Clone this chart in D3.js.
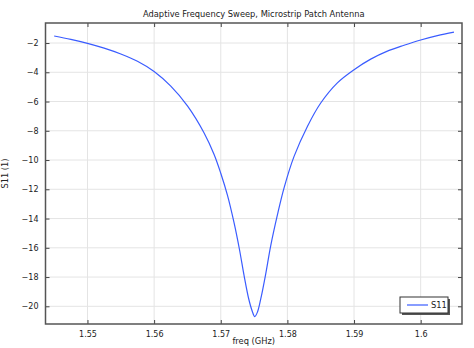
<!DOCTYPE html>
<html><head><meta charset="utf-8">
<script src="https://cdn.jsdelivr.net/npm/d3@7"></script>
<style>body{margin:0;background:#fff}svg{display:block}text{font-family:"DejaVu Sans",sans-serif;fill:#222}</style>
</head><body><svg id="c" width="474" height="348"></svg>
<script>
const freq = [1.545,1.5475,1.55,1.5525,1.555,1.5575,1.56,1.5625,1.565,1.5675,1.569,1.570,1.571,1.572,1.5728,1.5735,1.5742,1.5747,1.5751,1.5755,1.576,1.5767,1.5775,1.5785,1.5795,1.581,1.583,1.585,1.5875,1.59,1.5925,1.595,1.5975,1.6,1.6025,1.605];
const s11 = [-1.52,-1.75,-2.02,-2.35,-2.75,-3.25,-3.95,-4.95,-6.3,-8.15,-9.62,-10.9,-12.4,-14.3,-16.1,-17.9,-19.5,-20.3,-20.7,-20.4,-19.5,-17.9,-15.85,-13.75,-11.9,-9.75,-7.7,-6.1,-4.72,-3.82,-3.1,-2.55,-2.15,-1.79,-1.49,-1.25];
const xTicks = [1.55,1.56,1.57,1.58,1.59,1.6];
const yTicks = [-20,-18,-16,-14,-12,-10,-8,-6,-4,-2];
const title = "Adaptive Frequency Sweep, Microstrip Patch Antenna";
const xLabel = "freq (GHz)", yLabel = "S11 (1)", seriesName = "S11";

const svg = d3.select("#c");
const L=45.5,R=462,T=23,B=324;
const x = d3.scaleLinear().domain([1.5437,1.6062]).range([L,R]);
const y = d3.scaleLinear().domain([-21.21,-0.63]).range([B,T]);

const g = svg.append("g");
g.selectAll(".gx").data(xTicks).join("line").attr("x1",d=>x(d)).attr("x2",d=>x(d)).attr("y1",T).attr("y2",B).attr("stroke","#e4e4e4").attr("stroke-width",1);
g.selectAll(".gy").data(yTicks).join("line").attr("y1",d=>y(d)).attr("y2",d=>y(d)).attr("x1",L).attr("x2",R).attr("stroke","#e4e4e4").attr("stroke-width",1);

const fx = d=>d3.format("")(d);
const styleAx = a=>{a.select(".domain").remove();a.selectAll("line").attr("stroke","#444");a.selectAll("text").attr("font-size",8).attr("font-family","DejaVu Sans").attr("fill","#222");};
svg.append("g").attr("transform",`translate(0,${B})`).call(d3.axisBottom(x).tickValues(xTicks).tickSize(-4).tickPadding(7).tickFormat(fx)).call(styleAx);
svg.append("g").attr("transform",`translate(${L},0)`).call(d3.axisLeft(y).tickValues(yTicks).tickSize(-4).tickPadding(7).tickFormat(fx)).call(styleAx);
svg.append("g").attr("transform",`translate(0,${T})`).call(d3.axisTop(x).tickValues(xTicks).tickSize(-4).tickFormat("")).call(styleAx);
svg.append("g").attr("transform",`translate(${R},0)`).call(d3.axisRight(y).tickValues(yTicks).tickSize(-4).tickFormat("")).call(styleAx);

const data = freq.map((f,i)=>[f,s11[i]]);
svg.append("path").datum(data).attr("fill","none").attr("stroke","#3a5cff").attr("stroke-width",1.2)
  .attr("d",d3.line().x(d=>x(d[0])).y(d=>y(d[1])).curve(d3.curveCatmullRom.alpha(0.5)));

svg.append("rect").attr("x",L).attr("y",T).attr("width",R-L).attr("height",B-T).attr("fill","none").attr("stroke","#555").attr("stroke-width",1.5);

svg.append("text").attr("x",(L+R)/2).attr("y",17).attr("text-anchor","middle").attr("font-size",8.3).text(title);
svg.append("text").attr("x",(L+R)/2).attr("y",344).attr("text-anchor","middle").attr("font-size",8.3).text(xLabel);
svg.append("text").attr("transform",`translate(8,${(T+B)/2}) rotate(-90)`).attr("text-anchor","middle").attr("font-size",8.3).text(yLabel);

const lg = svg.append("g");
lg.append("rect").attr("x",402).attr("y",299).attr("width",48).attr("height",16).attr("fill","#555");
lg.append("rect").attr("x",400).attr("y",297).attr("width",48).attr("height",16).attr("fill","#fff").attr("stroke","#333").attr("stroke-width",1);
lg.append("line").attr("x1",407).attr("x2",428).attr("y1",305).attr("y2",305).attr("stroke","#3a5cff").attr("stroke-width",1.2);
lg.append("text").attr("x",431).attr("y",308).attr("font-size",8.3).text(seriesName);
</script></body></html>
